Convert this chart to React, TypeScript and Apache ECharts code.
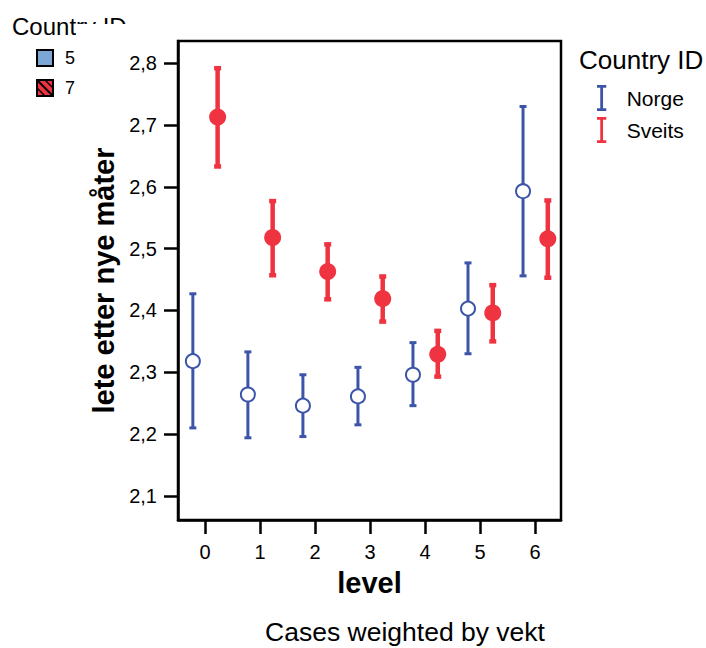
import React, { useEffect, useRef } from "react";
import * as echarts from "echarts";

const levels = [0, 1, 2, 3, 4, 5, 6];
const norgeMean = [2.318, 2.264, 2.246, 2.261, 2.296, 2.403, 2.593];
const norgeLow = [2.21, 2.194, 2.196, 2.215, 2.246, 2.33, 2.456];
const norgeHigh = [2.427, 2.333, 2.296, 2.308, 2.348, 2.477, 2.73];
const sveitsMean = [2.713, 2.518, 2.463, 2.419, 2.329, 2.396, 2.516];
const sveitsLow = [2.633, 2.457, 2.418, 2.382, 2.293, 2.35, 2.453];
const sveitsHigh = [2.792, 2.577, 2.507, 2.455, 2.367, 2.441, 2.578];
const yTicks = [2.1, 2.2, 2.3, 2.4, 2.5, 2.6, 2.7, 2.8];

const BLUE = "#3c55a9";
const RED = "#ef3340";
const FONT = "Liberation Sans, Arial, sans-serif";
const NORGE_OFF = -0.22;
const SVEITS_OFF = 0.23;

function errorBarRender(lineW: number, capHalf: number, color: string) {
  return (params: any, api: any) => {
    const x = api.value(0);
    const lo = api.coord([x, api.value(1)]);
    const hi = api.coord([x, api.value(2)]);
    const style = { stroke: color, lineWidth: lineW };
    return {
      type: "group",
      children: [
        { type: "line", shape: { x1: lo[0], y1: lo[1], x2: hi[0], y2: hi[1] }, style },
        { type: "line", shape: { x1: lo[0] - capHalf, y1: lo[1], x2: lo[0] + capHalf, y2: lo[1] }, style },
        { type: "line", shape: { x1: hi[0] - capHalf, y1: hi[1], x2: hi[0] + capHalf, y2: hi[1] }, style },
      ],
    };
  };
}

const IBEAM = "path://M0,0H10V3H6.5V25H10V28H0V25H3.5V3H0Z";

export default function App() {
  const ref = useRef<HTMLDivElement>(null);
  useEffect(() => {
    document.body.style.margin = "0";
    const chart = echarts.init(ref.current!, null, { renderer: "svg" });
    const norgeBars = levels.map((l, i) => [l + NORGE_OFF, norgeLow[i], norgeHigh[i]]);
    const sveitsBars = levels.map((l, i) => [l + SVEITS_OFF, sveitsLow[i], sveitsHigh[i]]);
    const norgePts = levels.map((l, i) => [l + NORGE_OFF, norgeMean[i]]);
    const sveitsPts = levels.map((l, i) => [l + SVEITS_OFF, sveitsMean[i]]);
    chart.setOption({
      animation: false,
      backgroundColor: "#fff",
      textStyle: { fontFamily: FONT },
      grid: {
        left: 178,
        right: 145,
        top: 41,
        bottom: 128,
        show: true,
        borderColor: "#000",
        borderWidth: 2.5,
        outerBoundsMode: "none",
      },
      xAxis: {
        type: "value",
        min: -0.49,
        max: 6.47,
        name: "level",
        nameLocation: "middle",
        nameGap: 48,
        nameTextStyle: { fontSize: 29, fontWeight: "bold", color: "#000", fontFamily: FONT },
        splitLine: { show: false },
        axisLine: { show: true, onZero: false, lineStyle: { color: "#000", width: 2.5 } },
        axisTick: { show: true, length: 14, lineStyle: { color: "#000", width: 2.5 }, customValues: levels },
        axisLabel: {
          fontSize: 20,
          color: "#000",
          margin: 22,
          customValues: levels,
          formatter: (v: number) => String(Math.round(v)),
        },
      },
      yAxis: {
        type: "value",
        min: 2.061,
        max: 2.836,
        name: "lete etter nye måter",
        nameLocation: "middle",
        nameRotate: 90,
        nameGap: 54,
        nameTextStyle: { fontSize: 29, fontWeight: "bold", color: "#000", fontFamily: FONT },
        splitLine: { show: false },
        axisLine: { show: true, onZero: false, lineStyle: { color: "#000", width: 2.5 } },
        axisTick: { show: true, length: 14, lineStyle: { color: "#000", width: 2.5 }, customValues: yTicks },
        axisLabel: {
          fontSize: 20,
          color: "#000",
          margin: 21,
          customValues: yTicks,
          formatter: (v: number) => v.toFixed(1).replace(".", ","),
        },
      },
      legend: {
        orient: "vertical",
        left: 592,
        top: 80,
        itemWidth: 12,
        itemHeight: 26,
        itemGap: 6,
        textStyle: { fontSize: 21, color: "#000", fontFamily: FONT, padding: [0, 0, 0, 14] },
        data: [
          { name: "Norge", icon: IBEAM, itemStyle: { color: BLUE } },
          { name: "Sveits", icon: IBEAM, itemStyle: { color: RED } },
        ],
      },
      graphic: [
        { type: "text", left: 579, top: 47, style: { text: "Country ID", fontSize: 26, fill: "#000", fontFamily: FONT } },
        { type: "text", x: 405, y: 632, style: { text: "Cases weighted by vekt", fontSize: 26.5, fill: "#000", fontFamily: FONT, align: "center", verticalAlign: "middle" } },
        { type: "text", x: 12, y: 14, style: { text: "Country ID", fontSize: 24, fill: "#000", fontFamily: FONT } },
        { type: "rect", shape: { x: 76, y: 24, width: 90, height: 16 }, style: { fill: "#fff" }, z: 10 },
        { type: "rect", shape: { x: 37, y: 50, width: 16, height: 16 }, style: { fill: "#7ba6d6", stroke: "#000", lineWidth: 2 }, z: 10 },
        { type: "text", x: 65, y: 58, style: { text: "5", fontSize: 18, fill: "#000", fontFamily: FONT, verticalAlign: "middle" }, z: 10 },
        { type: "rect", shape: { x: 37, y: 80, width: 16, height: 16 }, style: { fill: RED, stroke: "#000", lineWidth: 2 }, z: 10 },
        { type: "line", shape: { x1: 37, y1: 80, x2: 53, y2: 96 }, style: { stroke: "#000", lineWidth: 2 }, z: 11 },
        { type: "line", shape: { x1: 37, y1: 88, x2: 45, y2: 96 }, style: { stroke: "#000", lineWidth: 1.5 }, z: 11 },
        { type: "line", shape: { x1: 45, y1: 80, x2: 53, y2: 88 }, style: { stroke: "#000", lineWidth: 1.5 }, z: 11 },
        { type: "text", x: 65, y: 88, style: { text: "7", fontSize: 18, fill: "#000", fontFamily: FONT, verticalAlign: "middle" }, z: 10 },
      ],
      series: [
        {
          name: "Norge",
          type: "custom",
          renderItem: errorBarRender(3, 3.5, BLUE),
          itemStyle: { color: BLUE },
          data: norgeBars,
          z: 2,
        },
        {
          name: "Sveits",
          type: "custom",
          renderItem: errorBarRender(4.5, 3.5, RED),
          itemStyle: { color: RED },
          data: sveitsBars,
          z: 2,
        },
        {
          name: "Norge",
          type: "scatter",
          symbol: "emptyCircle",
          symbolSize: 14,
          itemStyle: { color: BLUE, borderWidth: 2.5, opacity: 1 },
          data: norgePts,
          z: 3,
        },
        {
          name: "Sveits",
          type: "scatter",
          symbol: "circle",
          symbolSize: 17,
          itemStyle: { color: RED, opacity: 1 },
          data: sveitsPts,
          z: 3,
        },
      ],
    });
    return () => chart.dispose();
  }, []);
  return <div ref={ref} style={{ width: 706, height: 648 }} />;
}
